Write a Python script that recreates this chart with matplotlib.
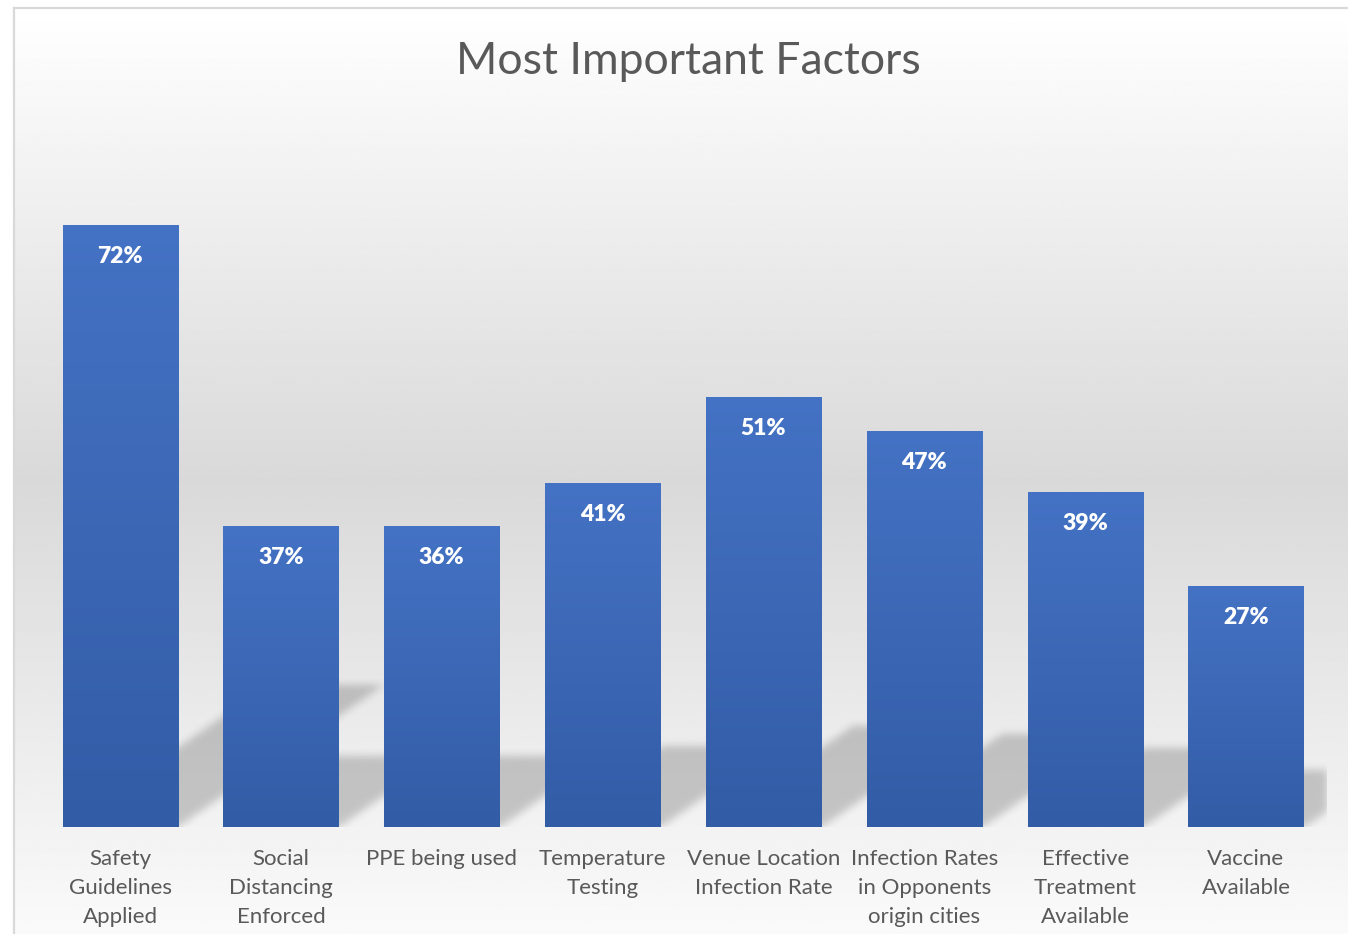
import numpy as np
import matplotlib.pyplot as plt
from matplotlib.lines import Line2D

# data
categories = ['Safety\nGuidelines\nApplied', 'Social\nDistancing\nEnforced',
              'PPE being used', 'Temperature\nTesting',
              'Venue Location\nInfection Rate', 'Infection Rates\nin Opponents\norigin cities',
              'Effective\nTreatment\nAvailable', 'Vaccine\nAvailable']
bar_heights = [72.0, 36.0, 36.0, 41.1, 51.4, 47.3, 40.0, 28.8]   # bar tops as drawn
label_pct = [72, 37, 36, 41, 51, 47, 39, 27]                       # printed data labels
title = 'Most Important Factors'

FONT = 'Lato'
GREY_TXT = '#595959'
W, H = 1348, 934

fig = plt.figure(figsize=(W / 100, H / 100), dpi=100)
fig.patch.set_facecolor('white')

# chart-area background: white -> grey -> near white
bg = fig.add_axes([14 / W, 0, 1 - 14 / W, (H - 8) / H], zorder=0)
ys = np.linspace(0, 1, 400)            # 0 = top of chart area
pix = 8 + ys * (H - 8)
grey = np.interp(pix, [8, 480, 934], [1.0, 0.851, 0.98])
bg.imshow(np.repeat(grey[:, None], 2, axis=1), cmap='gray', vmin=0, vmax=1,
          aspect='auto', extent=[0, 1, 0, 1], interpolation='bilinear')
bg.set_axis_off()

# chart border (top and left visible)
fig.add_artist(Line2D([14 / W, 1], [1 - 8 / H, 1 - 8 / H], color='#d9d9d9', lw=1.6,
                      transform=fig.transFigure))
fig.add_artist(Line2D([14 / W, 14 / W], [0, 1 - 8 / H], color='#d9d9d9', lw=1.6,
                      transform=fig.transFigure))

# plot area
left, right, base_px = 39.6, 1326.4, 826.7
ymax = 80
px_per_unit = 601.7 / 72
ax_h = ymax * px_per_unit
ax = fig.add_axes([left / W, (H - base_px) / H, (right - left) / W, ax_h / H], zorder=1)
ax.patch.set_alpha(0)
n = len(categories)
x = np.arange(n)
width = 0.715
ax.set_xlim(-0.5, n - 0.5)
ax.set_ylim(0, ymax)

# perspective shadows, rasterised in pixel space then blurred
cat_px = (right - left) / n
sw, sh = int(right - left), int(ax_h)
yy, xx = np.mgrid[0:sh, 0:sw]
rise = (sh - 1 - yy).astype(float)          # pixels above baseline
mask = np.zeros((sh, sw))
for i, v in enumerate(bar_heights):
    xc = (i + 0.5) * cat_px
    xl, xr = xc - width * cat_px / 2, xc + width * cat_px / 2
    top = 0.235 * v * px_per_unit
    shift = 1.45 * rise
    m = (rise <= top) & (xx >= xl + shift) & (xx <= xr + shift)
    mask[m] = 1.0

def blur(a, sigma):
    r = int(3 * sigma)
    k = np.exp(-0.5 * (np.arange(-r, r + 1) / sigma) ** 2)
    k /= k.sum()
    a = np.apply_along_axis(lambda c: np.convolve(c, k, mode='same'), 0, a)
    a = np.apply_along_axis(lambda c: np.convolve(c, k, mode='same'), 1, a)
    return a

mask = blur(mask, 4)
shadow = np.zeros((sh, sw, 4))
shadow[..., 3] = mask * 0.19
ax.imshow(shadow, extent=[-0.5, n - 0.5, 0, ymax], aspect='auto', zorder=1,
          interpolation='bilinear')

# bars with vertical gradient
bars = ax.bar(x, bar_heights, width=width, color='#4472c4', zorder=2)
top_c = np.array([68, 114, 196]) / 255
bot_c = np.array([51, 92, 166]) / 255
t = np.linspace(0, 1, 256)[:, None]
grad = (top_c[None, :] * (1 - t) + bot_c[None, :] * t)[:, None, :]
for b in bars:
    bx, bw, bh = b.get_x(), b.get_width(), b.get_height()
    im = ax.imshow(grad, extent=[bx, bx + bw, 0, bh], aspect='auto', zorder=3,
                   interpolation='bilinear')
    im.set_clip_path(b)

for xi, v, p in zip(x, bar_heights, label_pct):
    ax.annotate(f'{p}%', (xi, v), xytext=(0, -22.5), textcoords='offset points',
                ha='center', va='center', color='white', fontsize=16.5,
                fontweight='heavy', family=FONT, zorder=4)

ax.set_xticks(x)
ax.set_xticklabels(categories, fontsize=16, color=GREY_TXT, family=FONT,
                   linespacing=1.55)
ax.tick_params(axis='x', length=0, pad=16)
ax.set_yticks([])
for s in ax.spines.values():
    s.set_visible(False)

fig.text(688 / W, 1 - 62 / H, title, ha='center', va='center', fontsize=32,
         color=GREY_TXT, family=FONT)

fig.savefig('out.png', dpi=100)
